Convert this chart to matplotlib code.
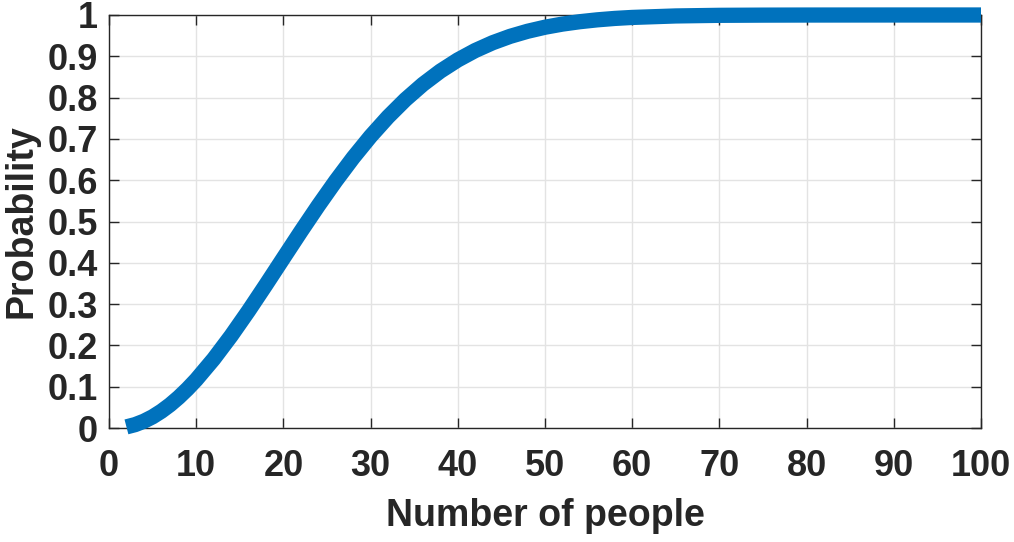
import matplotlib
matplotlib.use("Agg")
import matplotlib.pyplot as plt

people = [2, 3, 4, 5, 6, 7, 8, 9, 10, 12, 14, 16, 18, 20, 22, 24, 26, 28, 30, 32, 34, 36, 38, 40,
          42, 44, 46, 48, 50, 52, 54, 56, 58, 60, 65, 70, 75, 80, 90, 100]
prob = [0.0027, 0.0082, 0.0164, 0.0271, 0.0405, 0.0562, 0.0743, 0.0946, 0.1169, 0.1670,
        0.2231, 0.2836, 0.3469, 0.4114, 0.4757, 0.5383, 0.5982, 0.6545, 0.7063, 0.7533,
        0.7953, 0.8322, 0.8641, 0.8912, 0.9140, 0.9329, 0.9483, 0.9606, 0.9704, 0.9780,
        0.9838, 0.9883, 0.9917, 0.9941, 0.9977, 0.9992, 0.9997, 0.9999, 1.0, 1.0]
xticks = list(range(0, 101, 10))
yticks = [i / 10 for i in range(11)]
ytick_labels = ["0", "0.1", "0.2", "0.3", "0.4", "0.5", "0.6", "0.7", "0.8", "0.9", "1"]

plt.rcParams['font.family'] = ['Liberation Sans', 'DejaVu Sans']
plt.rcParams['font.weight'] = 'bold'

fig = plt.figure(figsize=(10.14, 5.42), dpi=100)
ax = fig.add_axes([109/1014, 1 - 428/542, (981 - 109)/1014, (428 - 15)/542])

ax.plot(people, prob, color='#0072BD', linewidth=11, solid_capstyle='butt',
        solid_joinstyle='round', clip_on=False, zorder=3)

ax.set_xlim(0, 100)
ax.set_ylim(0, 1)
ax.set_xticks(xticks)
ax.set_yticks(yticks)
ax.set_yticklabels(ytick_labels)
ax.grid(True, color='#e3e3e3', linewidth=1)
ax.set_axisbelow(True)
ax.tick_params(direction='in', length=7, width=1, colors='#262626',
               labelsize=26, top=True, right=True)
ax.tick_params(axis='x', pad=15)
ax.tick_params(axis='y', pad=8)
for lab in ax.get_xticklabels() + ax.get_yticklabels():
    lab.set_fontweight('bold')
for s in ax.spines.values():
    s.set_color('#262626')
    s.set_linewidth(1)
ax.set_xlabel('Number of people', fontsize=27, fontweight='bold', color='#262626')
ax.set_ylabel('Probability', fontsize=27, fontweight='bold', color='#262626')
ax.xaxis.set_label_coords(0.5, (428 - 498) / 413)
ax.yaxis.set_label_coords((40 - 109) / 872, 0.5)

fig.savefig('out.png', dpi=100)
